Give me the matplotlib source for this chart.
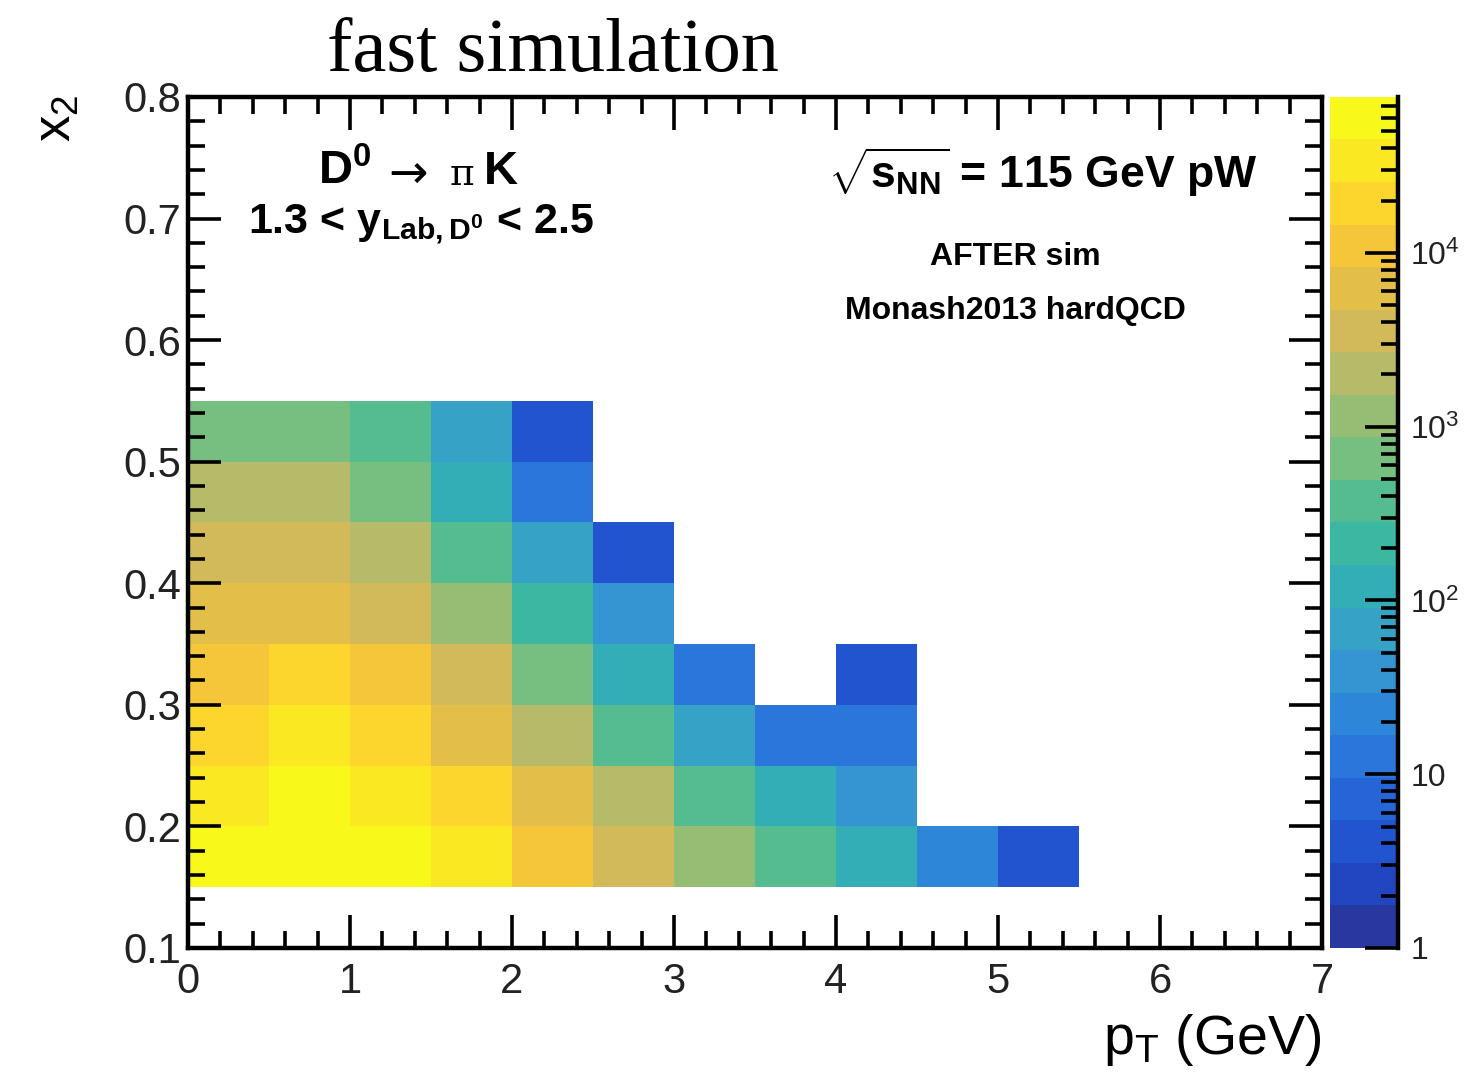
import numpy as np
import matplotlib
matplotlib.use("Agg")
import matplotlib.pyplot as plt
from matplotlib.colors import ListedColormap, LogNorm
from matplotlib.ticker import FixedLocator, MultipleLocator, NullFormatter

# histogram binning (pT in GeV, x2)
PT_EDGES = np.arange(0.0, 5.51, 0.5)
X2_EDGES = np.arange(0.15, 0.551, 0.05)

# counts per bin, rows = x2 bins from 0.15-0.20 up to 0.50-0.55,
# columns = pT bins 0-0.5 ... 5.0-5.5 ; 0 = empty bin
ROW_015 = [52000, 61000, 55000, 36000, 11500, 3400, 1100, 380, 115, 21, 4]
ROW_020 = [33000, 47000, 31000, 18500, 6000, 2000, 360, 125, 40, 0, 0]
ROW_025 = [19000, 30000, 21000, 6200, 1900, 340, 75, 12, 13, 0, 0]
ROW_030 = [11000, 17000, 12000, 3300, 620, 118, 12, 0, 4, 0, 0]
ROW_035 = [5800, 6400, 3500, 1080, 200, 38, 0, 0, 0, 0, 0]
ROW_040 = [3400, 3300, 2000, 360, 68, 4, 0, 0, 0, 0, 0]
ROW_045 = [1950, 1900, 640, 130, 12, 0, 0, 0, 0, 0, 0]
ROW_050 = [620, 600, 330, 68, 4, 0, 0, 0, 0, 0, 0]

Z_MIN = 1.0
Z_MAX = 7.9e4

XTICKS = [0, 1, 2, 3, 4, 5, 6, 7]
YTICKS = [0.1, 0.2, 0.3, 0.4, 0.5, 0.6, 0.7, 0.8]
ZTICKS = [1, 10, 100, 1000, 10000]
ZTICK_LABELS = ["1", "10", "10$^{2}$", "10$^{3}$", "10$^{4}$"]

# 20 contour colours of the palette, low -> high (as seen in the figure)
PALETTE = [
    "#2838a0", "#2245c0", "#2254d0", "#2665d8", "#2a76db",
    "#2d86d8", "#3495d2", "#35a2c6", "#33aeb6", "#3cb7a2",
    "#55bc8f", "#77bf80", "#96bd74", "#b6bb6a", "#d2b95a",
    "#e3be48", "#f5c53a", "#fcd62c", "#fae823", "#f8f81a",
]

SANS = "Liberation Sans"
plt.rcParams["font.family"] = [SANS, "DejaVu Sans"]
plt.rcParams["mathtext.fontset"] = "custom"
plt.rcParams["mathtext.rm"] = SANS
plt.rcParams["mathtext.bf"] = SANS + ":bold"
plt.rcParams["mathtext.default"] = "regular"


def fx(px):
    return px / 1466


def fy(py):
    return 1 - py / 1076


def main():
    counts = np.array([ROW_015, ROW_020, ROW_025, ROW_030,
                       ROW_035, ROW_040, ROW_045, ROW_050], dtype=float)
    counts = np.ma.masked_less_equal(counts, 0)

    fig = plt.figure(figsize=(14.66, 10.76), dpi=100)
    ax = fig.add_axes([0.1282, 0.1190, 0.7736, 0.7909])
    cax = fig.add_axes([0.9072, 0.1190, 0.0464, 0.7909])

    norm = LogNorm(vmin=Z_MIN, vmax=Z_MAX)
    mesh = ax.pcolormesh(PT_EDGES, X2_EDGES, counts, cmap=ListedColormap(PALETTE),
                         norm=norm)

    ax.set_xlim(0, 7)
    ax.set_ylim(0.1, 0.8)
    ax.xaxis.set_major_locator(FixedLocator(XTICKS))
    ax.xaxis.set_minor_locator(MultipleLocator(0.2))
    ax.yaxis.set_major_locator(FixedLocator(YTICKS))
    ax.yaxis.set_minor_locator(MultipleLocator(0.02))
    ax.set_xticklabels([str(t) for t in XTICKS])
    ax.set_yticklabels(["%.1f" % t for t in YTICKS])
    ax.tick_params(which="both", direction="in", top=True, right=True,
                   width=2.6, colors="black", labelcolor="#222222")
    ax.tick_params(which="major", length=24, labelsize=30)
    ax.tick_params(axis="x", which="major", pad=10)
    ax.tick_params(axis="y", which="major", pad=5)
    ax.tick_params(which="minor", length=12)
    for sp in ax.spines.values():
        sp.set_linewidth(3.2)

    # colorbar (ROOT palette style)
    cb = fig.colorbar(mesh, cax=cax)
    cb.outline.set_visible(False)
    cax.plot([1, 1], [0, 1], transform=cax.transAxes, color="black",
             lw=3.2, clip_on=False)
    cax.yaxis.set_major_locator(FixedLocator(ZTICKS))
    cax.set_yticklabels(ZTICK_LABELS)
    minors = [m * 10 ** d for d in range(5) for m in range(2, 10) if m * 10 ** d < Z_MAX]
    cax.yaxis.set_minor_locator(FixedLocator(minors))
    cax.yaxis.set_minor_formatter(NullFormatter())
    cax.tick_params(which="both", direction="in", right=True, left=False,
                    width=2.6, labelcolor="#222222")
    cax.tick_params(which="major", length=24, labelsize=23, pad=9)
    cax.tick_params(which="minor", length=12)

    # axis titles
    fig.text(fx(1322), fy(1040), "p$_{T}$ (GeV)", ha="right", va="center",
             fontsize=40)
    fig.text(fx(57), fy(118), "x$_{2}$", ha="center", va="center",
             rotation=90, fontsize=38)

    # title
    fig.text(fx(553), fy(52), "fast simulation", ha="center", va="center",
             fontsize=55, family=["Liberation Serif", "DejaVu Serif"])

    # annotations
    fig.text(fx(318), fy(172), "D$^{0}$", ha="left", va="center",
             fontsize=34, fontweight="bold")
    fig.text(fx(408), fy(175), "\u2192", ha="center", va="center",
             fontsize=34, family="DejaVu Sans")
    fig.text(fx(462), fy(175), "\u03c0", ha="center", va="center",
             fontsize=27, family="DejaVu Serif")
    fig.text(fx(518), fy(172), "K", ha="right", va="center",
             fontsize=34, fontweight="bold")
    fig.text(fx(248), fy(224), "1.3 < y$_{Lab,D^{0}}$ < 2.5", ha="left",
             va="center", fontsize=31, fontweight="bold")
    fig.text(fx(1257), fy(172), r"$\sqrt{s_{NN}}$ = 115 GeV pW",
             ha="right", va="center", fontsize=32, fontweight="bold")
    fig.text(fx(1015), fy(257), "AFTER sim", ha="center", va="center",
             fontsize=23, fontweight="bold")
    fig.text(fx(1015), fy(311), "Monash2013 hardQCD", ha="center",
             va="center", fontsize=23, fontweight="bold")

    plt.savefig("out.png", dpi=100)


if __name__ == "__main__":
    main()
